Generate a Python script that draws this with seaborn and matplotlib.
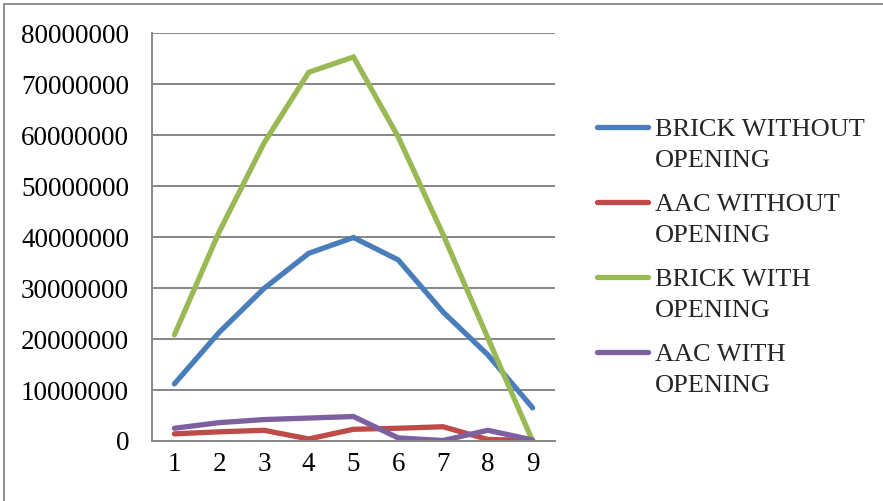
import matplotlib
matplotlib.use("Agg")
import matplotlib.pyplot as plt
from matplotlib.lines import Line2D
import seaborn as sns
import pandas as pd

steps = [1, 2, 3, 4, 5, 6, 7, 8, 9]
series_names = [
    "BRICK WITHOUT\nOPENING",
    "AAC WITHOUT\nOPENING",
    "BRICK WITH\nOPENING",
    "AAC WITH\nOPENING",
]
brick_without_opening = [11200000, 21300000, 29900000, 36800000, 39900000, 35500000, 25300000, 16900000, 6500000]
aac_without_opening = [1400000, 1800000, 2100000, 400000, 2300000, 2500000, 2800000, 300000, 100000]
brick_with_opening = [20800000, 41000000, 58400000, 72300000, 75300000, 59600000, 40500000, 20200000, 0]
aac_with_opening = [2500000, 3600000, 4200000, 4500000, 4800000, 600000, 100000, 2100000, 200000]
colors = ["#4A7EBB", "#BE4B48", "#98B954", "#7D60A0"]
y_ticks = [0, 10000000, 20000000, 30000000, 40000000, 50000000, 60000000, 70000000, 80000000]

frames = []
for name, vals in zip(series_names, [brick_without_opening, aac_without_opening,
                                      brick_with_opening, aac_with_opening]):
    frames.append(pd.DataFrame({"step": steps, "value": vals, "series": name}))
df = pd.concat(frames, ignore_index=True)

sns.set_style("white")
plt.rcParams["font.family"] = ["Liberation Serif", "DejaVu Serif"]

W, H = 883, 501
fig = plt.figure(figsize=(W / 100, H / 100), dpi=100)
ax = fig.add_axes([152 / W, 1 - 441 / H, (555 - 152) / W, (441 - 33) / H])

sns.lineplot(data=df, x="step", y="value", hue="series", hue_order=series_names,
             palette=colors, linewidth=3.8, ax=ax, legend=False,
             solid_capstyle="round", solid_joinstyle="miter")

grid_c = "#868686"
ax.set_xlim(0.5, 9.5)
ax.set_ylim(0, 80000000)
ax.set_yticks(y_ticks)
ax.set_yticklabels([str(v) for v in y_ticks])
ax.set_xticks(steps)
ax.set_xticklabels([str(s) for s in steps])
ax.set_xticks([s + 0.5 for s in [0] + steps], minor=True)
ax.tick_params(axis="x", which="major", length=0, pad=8, labelsize=19.5, colors="black")
ax.tick_params(axis="x", which="minor", length=5.5, width=1.3, color=grid_c, direction="out")
ax.tick_params(axis="y", which="major", length=5.5, width=1.3, color=grid_c,
               direction="out", pad=11, labelsize=19.5, labelcolor="black")
ax.set_xlabel("")
ax.set_ylabel("")
ax.yaxis.grid(True, color=grid_c, linewidth=1.4)
ax.set_axisbelow(True)
for side in ["top", "right"]:
    ax.spines[side].set_visible(False)
for side in ["left", "bottom"]:
    ax.spines[side].set_color(grid_c)
    ax.spines[side].set_linewidth(1.4)

# legend: key line beside the first line of each two-line label
row_y = [127, 202, 277, 352]
for name, c, y in zip(series_names, colors, row_y):
    fig.add_artist(Line2D([597 / W, 648 / W], [1 - y / H, 1 - y / H], color=c,
                          linewidth=3.8, solid_capstyle="round"))
    for k, part in enumerate(name.split("\n")):
        fig.text(655 / W, 1 - (y + 9 + 31 * k) / H, part, fontsize=19,
                 va="baseline", ha="left")

# outer chart frame
fig.add_artist(Line2D([4 / W, 4 / W], [0, 1 - 4 / H], color=grid_c, linewidth=1.3))
fig.add_artist(Line2D([4 / W, 1], [1 - 4 / H, 1 - 4 / H], color=grid_c, linewidth=1.3))

fig.savefig("out.png", dpi=100)
